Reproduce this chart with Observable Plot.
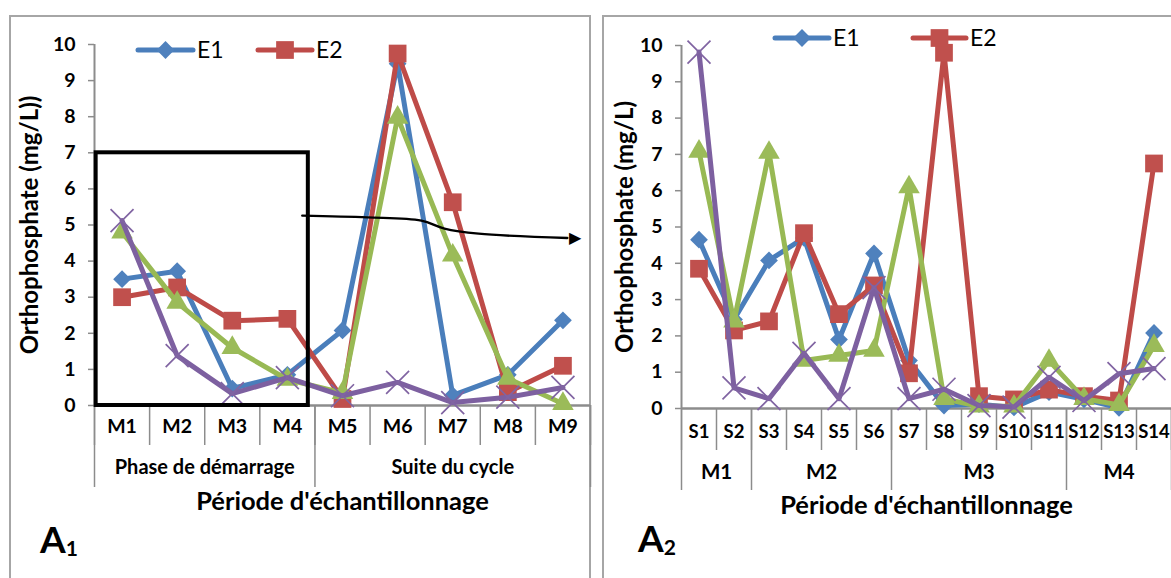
<!DOCTYPE html>
<html>
<head>
<meta charset="utf-8">
<script src="https://cdn.jsdelivr.net/npm/d3@7"></script>
<script src="https://cdn.jsdelivr.net/npm/@observablehq/plot@0.6"></script>
<style>
  body { margin: 0; background: #fff; }
  #wrap { position: relative; width: 1171px; height: 578px; overflow: hidden; background: #fff; font-family: Lato, "Open Sans", sans-serif; }
  .border { position: absolute; border: 2px solid #a6a6a6; box-sizing: border-box; }
  .chart { position: absolute; top: 0; }
  .overlay { position: absolute; left: 0; top: 0; pointer-events: none; }
  #wrap svg g[aria-label^="y-axis"] line,
  #wrap svg g[aria-label="y-axis tick"] path { stroke: #8c8c8c; stroke-width: 1.5; }
  #wrap svg g[aria-label^="y-axis"] text { font-size: 19.5px; font-weight: bold; fill: #000; }
</style>
</head>
<body>
<div id="wrap"></div>
<script>
// ---------- shared ----------
const seriesNames = ["E1", "E2", "E3", "E4"];
const lineColors = ["#4A7EBB", "#BE4B48", "#98B954", "#7D60A0"];
const markerColors = ["#4F81BD", "#C0504D", "#9BBB59", "#8064A2"];
const seriesSymbols = ["diamond2", "square", "triangle", "times"];
const legendSeries = ["E1", "E2"];
const yTicks = [0, 1, 2, 3, 4, 5, 6, 7, 8, 9, 10];
const xTitle = "Période d'échantillonnage";

// ---------- panel A1 ----------
const monthsA1 = ["M1", "M2", "M3", "M4", "M5", "M6", "M7", "M8", "M9"];
const phasesA1 = ["Phase de démarrage", "Suite du cycle"];
const phaseSizesA1 = [4, 5];
const e1A1 = [3.5, 3.72, 0.47, 0.85, 2.08, 9.47, 0.28, 0.85, 2.36];
const e2A1 = [3.0, 3.27, 2.35, 2.4, 0.18, 9.75, 5.63, 0.37, 1.1];
const e3A1 = [4.8, 2.85, 1.6, 0.72, 0.35, 7.98, 4.16, 0.75, 0.05];
const e4A1 = [5.12, 1.38, 0.33, 0.77, 0.27, 0.64, 0.08, 0.23, 0.5];
const yTitleA1 = "Orthophosphate (mg/L))";
const labelA1 = ["A", "1"];
// annotation: highlight box and curved arrow (data coordinates)
const boxA1 = [{x1: 0.53, x2: 4.38, y1: 0, y2: 7}];
const arrowXA1 = [4.27, 5.45, 6.43, 6.85, 7.47, 9.08];
const arrowYA1 = [5.26, 5.21, 5.12, 4.9, 4.76, 4.64];

// ---------- panel A2 ----------
const weeksA2 = ["S1", "S2", "S3", "S4", "S5", "S6", "S7", "S8", "S9", "S10", "S11", "S12", "S13", "S14"];
const monthsA2 = ["M1", "M2", "M3", "M4"];
const monthSizesA2 = [2, 4, 5, 3];
const e1A2 = [4.65, 2.45, 4.08, 4.7, 1.9, 4.27, 1.32, 0.08, 0.12, 0.03, 0.45, 0.25, 0.02, 2.08];
const e2A2 = [3.85, 2.15, 2.4, 4.83, 2.6, 3.39, 0.97, 9.8, 0.34, 0.25, 0.52, 0.34, 0.22, 6.75];
const e3A2 = [7.08, 2.4, 7.05, 1.32, 1.46, 1.6, 6.1, 0.27, 0.06, 0.06, 1.32, 0.27, 0.1, 1.73];
const e4A2 = [9.82, 0.57, 0.27, 1.52, 0.27, 3.33, 0.27, 0.53, 0.08, 0.04, 0.86, 0.22, 0.96, 1.1];
const yTitleA2 = "Orthophosphate (mg/L)";
const labelA2 = ["A", "2"];

const FONT = "Lato, 'Open Sans', sans-serif";
const AXIS_GRAY = "#8c8c8c";

function symbolStyle(s) {
  const sym = seriesSymbols[s];
  if (sym === "times") return {symbol: sym, r: 10.5, stroke: markerColors[s], strokeWidth: 1.7, fill: "none"};
  if (sym === "square") return {symbol: sym, r: 10, fill: markerColors[s], stroke: "none"};
  if (sym === "triangle") return {symbol: sym, r: 8, fill: markerColors[s], stroke: "none"};
  return {symbol: sym, r: 8, fill: markerColors[s], stroke: "none"};
}

function panel(o) {
  const n = o.cats.length;
  const plotH = o.H - o.mT - o.mB;
  const rows = [];
  o.series.forEach((vals, s) => vals.forEach((v, i) => rows.push({s, name: seriesNames[s], x: i + 1, y: v})));
  const seps = d3.range(n + 1).map(i => i + 0.5);
  let acc = 0;
  const gBounds = [0.5];
  const gMids = [];
  o.groupSizes.forEach(sz => { gMids.push(acc + sz / 2 + 0.5); acc += sz; gBounds.push(acc + 0.5); });

  const marks = [
    Plot.ruleX(seps, {x: d => d, stroke: AXIS_GRAY, strokeWidth: 1.5, insetTop: plotH, insetBottom: -o.sepLen}),
    Plot.ruleX(gBounds, {x: d => d, stroke: AXIS_GRAY, strokeWidth: 1.5, insetTop: plotH, insetBottom: -o.groupSepLen}),
    Plot.ruleX([0.5], {x: d => d, stroke: AXIS_GRAY, strokeWidth: 2}),
    Plot.ruleY([0], {y: d => d, stroke: AXIS_GRAY, strokeWidth: 2.5}),
    Plot.text(o.cats, {x: (d, i) => i + 1, text: d => d, frameAnchor: "bottom", dy: o.tickDy, fontSize: o.tickFont, fontWeight: "bold", fill: "#000"}),
    Plot.text(o.groups, {x: (d, i) => gMids[i], text: d => d, frameAnchor: "bottom", dy: o.groupDy, fontSize: o.groupFont, fontWeight: "bold", fill: "#000"}),
    Plot.text([xTitle], {text: d => d, frameAnchor: "bottom", dy: o.titleDy, fontSize: 25.5, fontWeight: "bold", fill: "#000"}),
    Plot.text([o.yTitle], {text: d => d, frameAnchor: "left", textAnchor: "middle", rotate: -90, dx: o.yTitleDx, fontSize: 24, fontWeight: "bold", fill: "#000"})
  ];
  o.series.forEach((vals, s) => {
    const d = rows.filter(r => r.s === s);
    marks.push(Plot.line(d, {x: "x", y: "y", stroke: lineColors[s], strokeWidth: 5, strokeLinejoin: "round", strokeLinecap: "round"}));
    marks.push(Plot.dot(d, {x: "x", y: "y", ...symbolStyle(s)}));
  });
  (o.extra || []).forEach(m => marks.push(m));

  return Plot.plot({
    width: o.W,
    height: o.H,
    marginLeft: o.mL,
    marginRight: o.mR,
    marginTop: o.mT,
    marginBottom: o.mB,
    style: {fontFamily: FONT, fontSize: "19px", fontWeight: "bold", background: "none", color: "#000", overflow: "visible"},
    x: {domain: [0.5, n + 0.5], axis: null},
    y: {domain: [0, 10], ticks: yTicks, tickSize: 6, tickPadding: 13, label: null, tickFormat: d => d},
    marks
  });
}

const wrap = document.getElementById("wrap");

// panel borders
[{l: 9, t: 15, w: 582, h: 620}, {l: 602, t: 15, w: 620, h: 620}].forEach(b => {
  const div = document.createElement("div");
  div.className = "border";
  Object.assign(div.style, {left: b.l + "px", top: b.t + "px", width: b.w + "px", height: b.h + "px"});
  wrap.appendChild(div);
});

const annotA1 = [
  Plot.rect(boxA1, {x1: "x1", x2: "x2", y1: "y1", y2: "y2", stroke: "#000", strokeWidth: 4, fill: "none"}),
  Plot.line(arrowXA1.map((x, i) => ({x, y: arrowYA1[i]})), {x: "x", y: "y", curve: "catmull-rom", stroke: "#000", strokeWidth: 2.4}),
  Plot.text([{x: 9.22, y: 4.64}], {x: "x", y: "y", text: () => "\u25B6", fontSize: 16, fontFamily: "DejaVu Sans", fill: "#000", fontWeight: "normal"})
];

const chartA1 = panel({
  cats: monthsA1, groups: phasesA1, groupSizes: phaseSizesA1,
  series: [e1A1, e2A1, e3A1, e4A1], yTitle: yTitleA1,
  W: 592, H: 578, mL: 94, mR: 2, mT: 44, mB: 173,
  tickDy: 27, groupDy: 68, titleDy: 104, sepLen: 40, groupSepLen: 82, yTitleDx: -64, tickFont: 19.5, groupFont: 20,
  extra: annotA1
});
chartA1.classList.add("chart");
chartA1.style.left = "0px";
wrap.appendChild(chartA1);

const chartA2 = panel({
  cats: weeksA2, groups: monthsA2, groupSizes: monthSizesA2,
  series: [e1A2, e2A2, e3A2, e4A2], yTitle: yTitleA2,
  W: 579, H: 578, mL: 89, mR: 0, mT: 45, mB: 170,
  tickDy: 29, groupDy: 70, titleDy: 105, sepLen: 42, groupSepLen: 82, yTitleDx: -56, tickFont: 18.5, groupFont: 20.5
});
chartA2.classList.add("chart");
chartA2.style.left = "592px";
wrap.appendChild(chartA2);

// overlay: legends and panel labels
const ov = d3.create("svg").attr("class", "overlay").attr("width", 1171).attr("height", 578)
  .style("font-family", FONT);
const legends = [
  {y: 50, items: [{x1: 138, x2: 193}, {x1: 258, x2: 312}]},
  {y: 38, items: [{x1: 775, x2: 829}, {x1: 913, x2: 966}]}
];
const d3sym = {diamond2: d3.symbolDiamond2, square: d3.symbolSquare, triangle: d3.symbolTriangle, times: d3.symbolTimes};
legends.forEach(L => {
  legendSeries.forEach((name, k) => {
    const s = seriesNames.indexOf(name);
    const it = L.items[k];
    const st = symbolStyle(s);
    ov.append("line").attr("x1", it.x1).attr("x2", it.x2).attr("y1", L.y).attr("y2", L.y)
      .attr("stroke", lineColors[s]).attr("stroke-width", 5).attr("stroke-linecap", "round");
    ov.append("path").attr("d", d3.symbol(d3sym[st.symbol], Math.PI * st.r * st.r)())
      .attr("transform", `translate(${(it.x1 + it.x2) / 2},${L.y})`)
      .attr("fill", st.fill).attr("stroke", st.stroke).attr("stroke-width", st.strokeWidth || 0);
    ov.append("text").attr("x", it.x2 + 4).attr("y", L.y).attr("dy", "0.36em")
      .attr("font-size", 23).text(name);
  });
});
[{x: 40, y: 553, t: labelA1}, {x: 638, y: 552, t: labelA2}].forEach(p => {
  const t = ov.append("text").attr("x", p.x).attr("y", p.y).attr("font-weight", "bold").attr("font-size", 37);
  t.append("tspan").text(p.t[0]);
  t.append("tspan").attr("font-size", 21).attr("dy", 3).text(p.t[1]);
});
wrap.appendChild(ov.node());
</script>
</body>
</html>
